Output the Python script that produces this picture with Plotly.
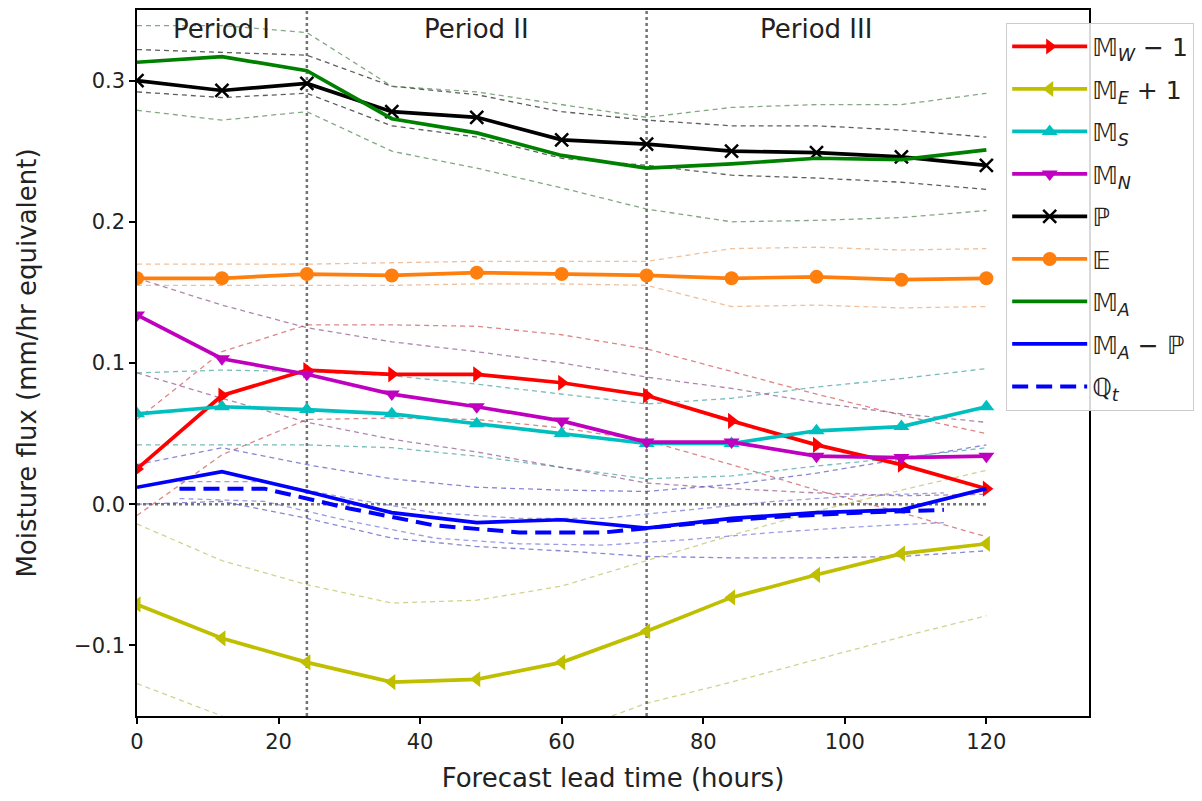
import plotly.graph_objects as go

# Forecast lead times (hours)
hours = [0, 12, 24, 36, 48, 60, 72, 84, 96, 108, 120]
qt_hours = [6, 18, 30, 42, 54, 66, 78, 90, 102, 114]

# Ensemble means and spread envelopes (mm/hr equivalent)
mw_mean = [0.025, 0.077, 0.095, 0.092, 0.092, 0.086, 0.077, 0.059, 0.042, 0.028, 0.011]
mw_hi = [0.060, 0.108, 0.127, 0.127, 0.126, 0.120, 0.110, 0.094, 0.078, 0.063, 0.050]
mw_lo = [-0.008, 0.035, 0.060, 0.061, 0.060, 0.054, 0.045, 0.028, 0.010, -0.006, -0.023]

me_mean = [-0.071, -0.095, -0.112, -0.126, -0.124, -0.112, -0.090, -0.066, -0.050, -0.035, -0.028]
me_hi = [-0.014, -0.040, -0.057, -0.070, -0.068, -0.058, -0.040, -0.022, -0.005, 0.010, 0.024]
me_lo = [-0.127, -0.150, -0.170, -0.185, -0.180, -0.163, -0.141, -0.126, -0.110, -0.094, -0.079]

ms_mean = [0.064, 0.069, 0.067, 0.064, 0.057, 0.050, 0.043, 0.043, 0.052, 0.055, 0.069]
ms_hi = [0.093, 0.095, 0.094, 0.091, 0.085, 0.078, 0.071, 0.075, 0.083, 0.089, 0.096]
ms_lo = [0.042, 0.042, 0.042, 0.040, 0.034, 0.026, 0.018, 0.020, 0.027, 0.033, 0.040]

mn_mean = [0.134, 0.103, 0.092, 0.078, 0.069, 0.059, 0.044, 0.044, 0.034, 0.033, 0.034]
mn_hi = [0.160, 0.141, 0.125, 0.115, 0.108, 0.100, 0.090, 0.082, 0.072, 0.064, 0.058]
mn_lo = [0.093, 0.075, 0.058, 0.046, 0.037, 0.026, 0.015, 0.011, 0.008, 0.006, 0.007]

p_mean = [0.300, 0.293, 0.298, 0.278, 0.274, 0.258, 0.255, 0.250, 0.249, 0.246, 0.240]
p_hi = [0.322, 0.320, 0.318, 0.296, 0.290, 0.278, 0.272, 0.268, 0.268, 0.265, 0.260]
p_lo = [0.292, 0.288, 0.291, 0.268, 0.260, 0.245, 0.240, 0.233, 0.231, 0.228, 0.223]

e_mean = [0.160, 0.160, 0.163, 0.162, 0.164, 0.163, 0.162, 0.160, 0.161, 0.159, 0.160]
e_hi = [0.170, 0.170, 0.170, 0.171, 0.172, 0.172, 0.172, 0.181, 0.182, 0.180, 0.181]
e_lo = [0.155, 0.155, 0.155, 0.155, 0.156, 0.156, 0.155, 0.140, 0.141, 0.139, 0.140]

ma_mean = [0.313, 0.317, 0.307, 0.273, 0.263, 0.247, 0.238, 0.241, 0.245, 0.244, 0.251]
ma_hi = [0.339, 0.339, 0.334, 0.296, 0.292, 0.283, 0.274, 0.281, 0.283, 0.283, 0.291]
ma_lo = [0.279, 0.272, 0.278, 0.250, 0.238, 0.224, 0.209, 0.200, 0.201, 0.203, 0.208]

map_mean = [0.012, 0.023, 0.009, -0.006, -0.013, -0.011, -0.017, -0.010, -0.006, -0.004, 0.011]
map_hi = [0.028, 0.040, 0.028, 0.018, 0.012, 0.010, 0.009, 0.014, 0.022, 0.032, 0.042]
map_lo = [0.000, 0.002, -0.010, -0.024, -0.030, -0.033, -0.037, -0.038, -0.038, -0.037, -0.033]

qt_mean = [0.011, 0.011, -0.003, -0.015, -0.020, -0.020, -0.014, -0.009, -0.006, -0.004]
qt_hi = [0.016, 0.016, 0.004, -0.006, -0.010, -0.010, -0.004, 0.002, 0.006, 0.008]
qt_lo = [0.004, 0.002, -0.012, -0.024, -0.028, -0.029, -0.025, -0.020, -0.016, -0.013]

period_bounds = [24, 72]
period_names = ["Period I", "Period II", "Period III"]
period_centres = [12, 48, 96]
y_range = [-0.15, 0.35]
x_range = [0, 134.5]

FONT = "DejaVu Sans"
TEXT = "#222222"

series = [
    # name, x, mean, hi, lo, colour, envelope colour, marker symbol, dash
    ("𝕄<sub><i>W</i></sub> − 1", hours, mw_mean, mw_hi, mw_lo, "#ff0000", "rgba(200,70,70,0.65)", "triangle-right", "solid"),
    ("𝕄<sub><i>E</i></sub> + 1", hours, me_mean, me_hi, me_lo, "#bfbf00", "rgba(180,180,70,0.6)", "triangle-left", "solid"),
    ("𝕄<sub><i>S</i></sub>", hours, ms_mean, ms_hi, ms_lo, "#00bfbf", "rgba(50,150,150,0.65)", "triangle-up", "solid"),
    ("𝕄<sub><i>N</i></sub>", hours, mn_mean, mn_hi, mn_lo, "#bf00bf", "rgba(130,70,130,0.65)", "triangle-down", "solid"),
    ("ℙ", hours, p_mean, p_hi, p_lo, "#000000", "rgba(40,40,40,0.75)", "x-thin", "solid"),
    ("𝔼", hours, e_mean, e_hi, e_lo, "#ff7f0e", "rgba(230,150,90,0.6)", "circle", "solid"),
    ("𝕄<sub><i>A</i></sub>", hours, ma_mean, ma_hi, ma_lo, "#008000", "rgba(80,130,80,0.7)", None, "solid"),
    ("𝕄<sub><i>A</i></sub> − ℙ", hours, map_mean, map_hi, map_lo, "#0000ff", "rgba(70,70,190,0.65)", None, "solid"),
    ("ℚ<sub><i>t</i></sub>", qt_hours, qt_mean, qt_hi, qt_lo, "#0000ff", "rgba(90,90,210,0.6)", None, "16px,8px"),
]

fig = go.Figure()

# Thin dashed spread envelopes first, so the means sit on top
for name, xs, mean, hi, lo, col, env, sym, dash in series:
    for bound in (hi, lo):
        fig.add_trace(go.Scatter(
            x=xs, y=bound, mode="lines", showlegend=False, hoverinfo="skip",
            line=dict(color=env, width=1.3, dash="5px,4px"),
        ))

# Reference lines: zero flux and period boundaries
fig.add_trace(go.Scatter(
    x=[hours[0], hours[-1]], y=[0, 0], mode="lines", showlegend=False,
    line=dict(color="rgba(90,90,90,0.85)", width=2.5, dash="dot"),
))
for xb in period_bounds:
    fig.add_trace(go.Scatter(
        x=[xb, xb], y=y_range, mode="lines", showlegend=False,
        line=dict(color="rgba(90,90,90,0.85)", width=2.5, dash="dot"),
    ))

# Ensemble-mean curves
for i, (name, xs, mean, hi, lo, col, env, sym, dash) in enumerate(series):
    kw = dict(x=xs, y=mean, name=name, legendgroup=f"g{i}",
              line=dict(color=col, width=3.7 if dash == "solid" else 4, dash=dash))
    if sym:
        kw["mode"] = "lines+markers"
        kw["marker"] = dict(symbol=sym, size=14 if sym != "x-thin" else 13, color=col,
                            line=dict(color=col, width=2.5 if sym == "x-thin" else 0))
    else:
        kw["mode"] = "lines"
    fig.add_trace(go.Scatter(**kw))

for label, xc in zip(period_names, period_centres):
    fig.add_annotation(x=xc, y=0.3365, xref="x", yref="y", text=label,
                       showarrow=False, font=dict(family=FONT, size=26, color=TEXT))

axis_common = dict(
    showgrid=False, zeroline=False, showline=True, mirror=True,
    linecolor="black", linewidth=1.5, ticks="outside", ticklen=6, tickwidth=1.5,
    tickcolor="black", tickfont=dict(family=FONT, size=21, color=TEXT),
)

fig.update_layout(
    width=1202, height=801,
    margin=dict(l=137, r=111, t=8, b=85),
    plot_bgcolor="white", paper_bgcolor="white",
    font=dict(family=FONT, size=21, color=TEXT),
    xaxis=dict(range=x_range, tickvals=[0, 20, 40, 60, 80, 100, 120],
               title=dict(text="Forecast lead time (hours)", standoff=16,
                          font=dict(family=FONT, size=26, color=TEXT)),
               **axis_common),
    yaxis=dict(range=y_range, tickvals=[-0.1, 0.0, 0.1, 0.2, 0.3], tickformat=".1f",
               title=dict(text="Moisture flux (mm/hr equivalent)", standoff=30,
                          font=dict(family=FONT, size=26, color=TEXT)),
               **axis_common),
    legend=dict(x=0.913, y=0.982, xanchor="left", yanchor="top",
                bgcolor="rgba(255,255,255,0.85)", bordercolor="#cccccc", borderwidth=1,
                font=dict(family=FONT, size=25, color=TEXT),
                traceorder="grouped", tracegroupgap=7, itemwidth=75),
    showlegend=True,
)

fig.write_html("out.html")
